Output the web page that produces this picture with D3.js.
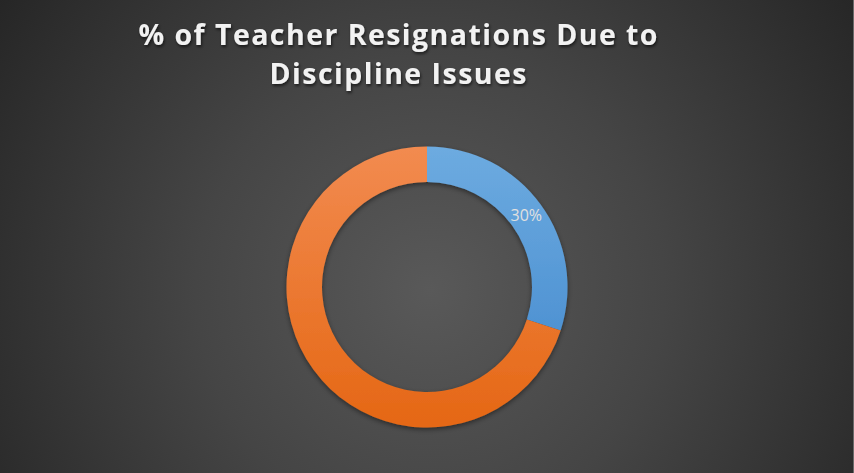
<!DOCTYPE html>
<html>
<head>
<meta charset="utf-8">
<script src="https://cdn.jsdelivr.net/npm/d3@7"></script>
<style>
  html, body { margin: 0; padding: 0; background: #2a2a2a; }
  svg { display: block; }
</style>
</head>
<body>
<svg id="chart" width="854" height="473"></svg>
<script>
const categories = ["Discipline Issues", "Other Reasons"];
const values = [30, 70];
const dataLabels = ["30%", ""];
const titleLines = ["% of Teacher Resignations Due to", "Discipline Issues"];
const colorsTop = ["#6dabe0", "#f28b50"];
const colorsBottom = ["#3f86cc", "#e56714"];

const W = 854, H = 473;
const cx = 427, cy = 287, R = 140.5, r = 105;

const svg = d3.select("#chart");
const defs = svg.append("defs");

const bg = defs.append("radialGradient").attr("id", "bg")
  .attr("gradientUnits", "userSpaceOnUse")
  .attr("cx", 430).attr("cy", 290).attr("r", 520);
bg.append("stop").attr("offset", "0%").attr("stop-color", "#595959");
bg.append("stop").attr("offset", "45%").attr("stop-color", "#454545");
bg.append("stop").attr("offset", "100%").attr("stop-color", "#262626");

svg.append("rect").attr("width", W).attr("height", H).attr("fill", "url(#bg)");
svg.append("rect").attr("x", W - 1).attr("y", 0).attr("width", 1).attr("height", H).attr("fill", "#6a6a6a");

categories.forEach((c, i) => {
  const gl = defs.append("linearGradient").attr("id", "grad" + i)
    .attr("gradientUnits", "userSpaceOnUse")
    .attr("x1", 0).attr("x2", 0).attr("y1", -R).attr("y2", R);
  gl.append("stop").attr("offset", "0%").attr("stop-color", colorsTop[i]);
  gl.append("stop").attr("offset", "100%").attr("stop-color", colorsBottom[i]);
});

const shadow = defs.append("filter").attr("id", "shadow")
  .attr("x", "-20%").attr("y", "-20%").attr("width", "140%").attr("height", "140%");
shadow.append("feDropShadow").attr("dx", 0).attr("dy", 2).attr("stdDeviation", 2.5)
  .attr("flood-color", "#000").attr("flood-opacity", 0.45);

const tshadow = defs.append("filter").attr("id", "tshadow")
  .attr("x", "-10%").attr("y", "-30%").attr("width", "120%").attr("height", "160%");
tshadow.append("feDropShadow").attr("dx", 1).attr("dy", 2).attr("stdDeviation", 1.5)
  .attr("flood-color", "#000").attr("flood-opacity", 0.6);

// Title
const titleWidths = [519, 257];
const titleBaselines = [44.5, 83.5];
const title = svg.append("g").attr("filter", "url(#tshadow)");
titleLines.forEach((t, i) => {
  title.append("text")
    .attr("x", 398).attr("y", titleBaselines[i])
    .attr("text-anchor", "middle")
    .attr("font-family", "'Open Sans', 'Liberation Sans', sans-serif")
    .attr("font-weight", 700)
    .attr("font-size", 28.5)
    .attr("fill", "#f2f2f2")
    .attr("textLength", titleWidths[i])
    .attr("lengthAdjust", "spacing")
    .text(t);
});

// Donut
const pie = d3.pie().sort(null).value(d => d)(values);
const arc = d3.arc().innerRadius(r).outerRadius(R);

const g = svg.append("g").attr("transform", `translate(${cx},${cy})`);
g.append("g").attr("filter", "url(#shadow)")
  .selectAll("path").data(pie).join("path")
  .attr("d", arc)
  .attr("fill", (d, i) => `url(#grad${i})`);

g.selectAll("text.lbl").data(pie).join("text")
  .attr("class", "lbl")
  .attr("transform", d => { const [x, y] = arc.centroid(d); return `translate(${x},${y})`; })
  .attr("dy", "0.36em")
  .attr("text-anchor", "middle")
  .attr("font-family", "'Open Sans', 'Liberation Sans', sans-serif")
  .attr("font-size", 16)
  .attr("fill", "#e0e0e0")
  .text((d, i) => dataLabels[i]);
</script>
</body>
</html>
